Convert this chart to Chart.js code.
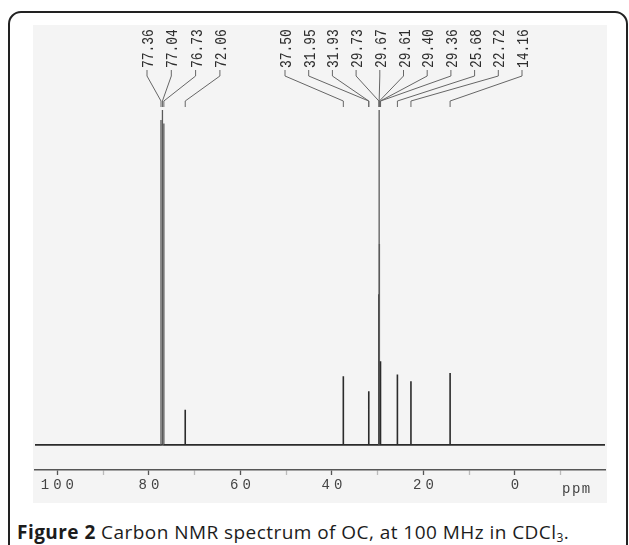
<!DOCTYPE html>
<html>
<head>
<meta charset="utf-8">
<script src="https://cdn.jsdelivr.net/npm/chart.js@4.4.1/dist/chart.umd.min.js"></script>
<style>
  html, body { margin: 0; padding: 0; width: 629px; height: 545px; overflow: hidden; background: #fff; }
  #frame {
    position: absolute; left: 8px; top: 11px; width: 616px; height: 600px;
    border: 2px solid #222; border-radius: 13px;
  }
  #spec { position: absolute; left: 0; top: 0; }
  #caption {
    position: absolute; left: 17px; top: 523px; white-space: nowrap;
    font-family: "Open Sans", sans-serif; font-size: 19px; line-height: 18px;
    letter-spacing: 0.45px; color: #1c1c1c; font-weight: 500;
  }
  #caption b { font-weight: 700; }
  #caption sub { font-size: 12px; vertical-align: -3px; line-height: 0; }
</style>
</head>
<body>
<div id="frame"></div>
<canvas id="spec" width="629" height="505"></canvas>
<div id="caption"><b>Figure 2</b> Carbon NMR spectrum of OC, at 100 MHz in CDCl<sub>3</sub>.</div>
<script>
// peak list (ppm) as printed on the spectrum, heights (tallest = 100)
const peakPpm = [77.36, 77.04, 76.73, 72.06, 37.50, 31.95, 31.93, 29.73, 29.67, 29.61, 29.40, 29.36, 25.68, 22.72, 14.16];
const peakHeights = [97, 100, 96, 10.5, 20.5, 16, 14, 45, 100, 60, 25, 22, 21, 19, 21.5];
const peakLabels = ['77.36', '77.04', '76.73', '72.06', '37.50', '31.95', '31.93', '29.73', '29.67', '29.61', '29.40', '29.36', '25.68', '22.72', '14.16'];
const labelGroup = [0, 0, 0, 0, 1, 1, 1, 1, 1, 1, 1, 1, 1, 1, 1];

// axis
const tickValues = [100, 90, 80, 70, 60, 50, 40, 30, 20, 10, 0, -10];
const tickLabels = ['100', '', '80', '', '60', '', '40', '', '20', '', '0', ''];
const ppmMin = -19.7, ppmMax = 104.9;

// spectrum trace: flat baseline with a spike at every peak
const trace = [{ x: ppmMax, y: 0 }];
peakPpm.map((p, i) => ({ p: p, h: peakHeights[i] }))
  .sort((a, b) => b.p - a.p)
  .forEach(pk => {
    trace.push({ x: pk.p, y: 0 }, { x: pk.p, y: pk.h }, { x: pk.p, y: 0 });
  });
trace.push({ x: ppmMin, y: 0 });

const scanBg = {
  id: 'scanBg',
  beforeDraw(chart) {
    const ctx = chart.ctx;
    ctx.save();
    ctx.fillStyle = '#f4f4f4';
    ctx.fillRect(33, 25, 574, 478);
    ctx.restore();
    // wide typewriter look for the axis numbers
    ctx.letterSpacing = '4px';
  },
  beforeDatasetsDraw(chart) {
    chart.ctx.letterSpacing = '0px';
  }
};

// rotated peak labels with leader lines
const peakMarks = {
  id: 'peakMarks',
  afterDraw(chart) {
    const ctx = chart.ctx, xs = chart.scales.x;
    const groupStart = [147, 285], groupStep = [24.3, 23.7];
    const count = [0, 0];
    ctx.save();
    peakPpm.forEach((p, i) => {
      const g = labelGroup[i];
      const lx = groupStart[g] + groupStep[g] * count[g]++;
      const px = xs.getPixelForValue(p);
      ctx.strokeStyle = '#666';
      ctx.lineWidth = 1;
      ctx.beginPath();
      ctx.moveTo(lx, 70);
      ctx.lineTo(lx, 76);
      ctx.lineTo(px, 101);
      ctx.lineTo(px, 107);
      ctx.stroke();

      ctx.save();
      ctx.translate(lx, 68);
      ctx.rotate(-Math.PI / 2);
      ctx.scale(0.76, 1);
      ctx.font = '17px "Liberation Mono"';
      ctx.fillStyle = '#2e2e2e';
      ctx.textAlign = 'left';
      ctx.textBaseline = 'alphabetic';
      ctx.fillText(peakLabels[i], 0, 6);
      ctx.restore();
    });
    ctx.font = '14px "Liberation Mono"';
    ctx.letterSpacing = '1.5px';
    ctx.fillStyle = '#444';
    ctx.textAlign = 'left';
    ctx.textBaseline = 'alphabetic';
    ctx.fillText('ppm', chart.chartArea.right - 43, 493);
    ctx.restore();
  }
};

new Chart(document.getElementById('spec'), {
  type: 'scatter',
  data: {
    datasets: [{
      data: trace,
      showLine: true,
      borderColor: '#2b2b2b',
      borderWidth: 1.6,
      pointRadius: 0,
      tension: 0,
      // the long lines print fainter on the paper than the baseline
      segment: {
        borderColor: c => (Math.max(c.p0.parsed.y, c.p1.parsed.y) > 50 ? '#5a5a5a' : undefined),
        borderWidth: c => (Math.max(c.p0.parsed.y, c.p1.parsed.y) > 50 ? 1.3 : undefined)
      }
    }]
  },
  options: {
    responsive: false,
    animation: false,
    layout: { padding: { left: 35, right: 24, top: 110, bottom: 0 } },
    plugins: { legend: { display: false }, tooltip: { enabled: false } },
    scales: {
      x: {
        type: 'linear',
        reverse: true,
        min: ppmMin,
        max: ppmMax,
        afterBuildTicks: s => { s.ticks = tickValues.map(v => ({ value: v })); },
        afterFit: s => { s.height = 35; },
        border: { display: true, color: '#555', width: 1.5 },
        grid: {
          drawOnChartArea: false,
          drawTicks: true,
          tickLength: 5,
          tickWidth: 1.3,
          tickColor: c => (tickLabels[c.index] ? '#555' : '#bbb')
        },
        ticks: {
          padding: 2,
          maxRotation: 0,
          autoSkip: false,
          labelOffset: 2,
          color: '#444',
          font: { family: 'Liberation Mono', size: 14 },
          callback: (v, i) => tickLabels[i]
        }
      },
      y: { display: false, min: -7.5, max: 100 }
    }
  },
  plugins: [scanBg, peakMarks]
});
</script>
</body>
</html>
